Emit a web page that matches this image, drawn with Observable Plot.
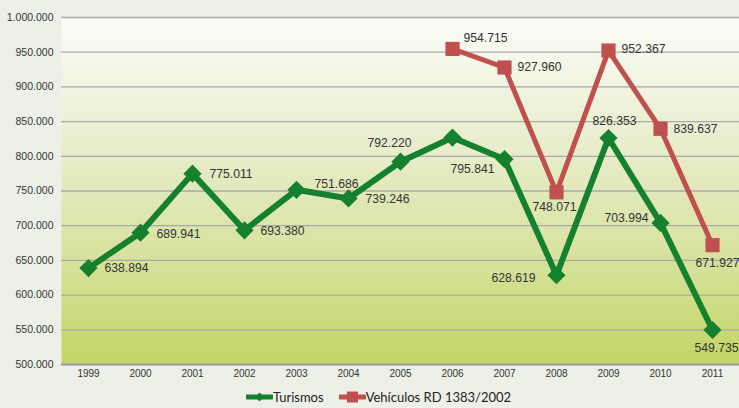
<!DOCTYPE html>
<html>
<head>
<meta charset="utf-8">
<script src="https://cdn.jsdelivr.net/npm/d3@7"></script>
<script src="https://cdn.jsdelivr.net/npm/@observablehq/plot@0.6"></script>
<style>
  html, body { margin: 0; padding: 0; background: #edf0e7; }
  #wrap { width: 739px; height: 408px; overflow: hidden; font-family: "Liberation Sans", Arial, sans-serif; }
  #legend { height: 22px; display: flex; align-items: center; justify-content: center; padding-left: 18px;
            font-family: Lato, "Open Sans", sans-serif; font-size: 13px; color: #222; letter-spacing: 0; }
  #legend .item { display: flex; align-items: center; margin-right: 15px; }
  #legend .item:last-child { margin-right: 0; }
  #legend svg { margin-right: 0; }
</style>
</head>
<body>
<div id="wrap">
  <div id="chart"></div>
  <div id="legend"></div>
</div>
<script>
// ---- data ----
const years = ["1999","2000","2001","2002","2003","2004","2005","2006","2007","2008","2009","2010","2011"];
const turismos = [638894, 689941, 775011, 693380, 751686, 739246, 792220, 827000, 795841, 628619, 826353, 703994, 549735];
const turismosLabels = ["638.894","689.941","775.011","693.380","751.686","739.246","792.220","","795.841","628.619","826.353","703.994","549.735"];
const vehiculosYears = ["2006","2007","2008","2009","2010","2011"];
const vehiculos = [954715, 927960, 748071, 952367, 839637, 671927];
const vehiculosLabels = ["954.715","927.960","748.071","952.367","839.637","671.927"];
const yTicks = [500000, 550000, 600000, 650000, 700000, 750000, 800000, 850000, 900000, 950000, 1000000];
const seriesNames = ["Turismos", "Vehículos RD 1383/2002"];

// ---- styling ----
const GREEN = "#15812f";
const RED = "#c0504d";
const fmt = d3.formatLocale({decimal: ",", thousands: ".", grouping: [3]}).format(",d");

const tData = years.map((y, i) => ({year: y, value: turismos[i], label: turismosLabels[i]}));
const vData = vehiculosYears.map((y, i) => ({year: y, value: vehiculos[i], label: vehiculosLabels[i]}));

// label placement per point: [dx, dy, anchor]
const tPlace = {
  "1999": [16, 0, "start"], "2000": [16, 1, "start"], "2001": [17, 0, "start"], "2002": [16, 1, "start"],
  "2003": [18, -6, "start"], "2004": [17, 1, "start"], "2005": [-11, -19, "middle"], "2006": [0, 0, "middle"],
  "2007": [-10, 10, "end"], "2008": [-21, 3, "end"], "2009": [6, -17, "middle"], "2010": [-12, -5, "end"],
  "2011": [4, 18, "middle"]
};
const vPlace = {
  "2006": [11, -11, "start"], "2007": [13, 0, "start"], "2008": [-2, 15, "middle"],
  "2009": [13, -1, "start"], "2010": [13, 0, "start"], "2011": [5, 18, "middle"]
};

const labelMarks = [];
for (const d of tData) {
  if (!d.label) continue;
  const [dx, dy, a] = tPlace[d.year];
  labelMarks.push(Plot.text([d], {x: "year", y: "value", text: "label", dx, dy, textAnchor: a,
    fill: "#333", fontSize: 12.2}));
}
for (const d of vData) {
  const [dx, dy, a] = vPlace[d.year];
  labelMarks.push(Plot.text([d], {x: "year", y: "value", text: "label", dx, dy, textAnchor: a,
    fill: "#333", fontSize: 12.2}));
}

const chart = Plot.plot({
  width: 739,
  height: 386,
  marginLeft: 61,
  marginRight: 0,
  marginTop: 17,
  marginBottom: 22,
  style: {background: "transparent", fontFamily: "'Liberation Sans', Arial, sans-serif", overflow: "hidden"},
  x: {type: "point", domain: years, padding: 0.5, label: null},
  y: {domain: [500000, 1000000], label: null},
  marks: [
    Plot.frame({fill: "url(#plotbg)", stroke: null}),
    Plot.gridY(yTicks, {stroke: "#a9a9a9", strokeOpacity: 1, strokeWidth: 1.3}),
    Plot.ruleY([500000], {stroke: "#9e9e9e", strokeWidth: 2}),
    Plot.axisY(yTicks, {tickSize: 0, tickPadding: 8, tickFormat: fmt, fontSize: 10.5, fill: "#333"}),
    Plot.axisX({tickSize: 0, tickPadding: 5, fontSize: 10, fill: "#333"}),
    Plot.line(vData, {x: "year", y: "value", stroke: RED, strokeWidth: 5, strokeLinejoin: "miter"}),
    Plot.dot(vData, {x: "year", y: "value", symbol: "square", r: 8, fill: RED, stroke: null}),
    Plot.line(tData, {x: "year", y: "value", stroke: GREEN, strokeWidth: 6, strokeLinejoin: "miter"}),
    Plot.dot(tData, {x: "year", y: "value", symbol: "diamond2", r: 8.2, fill: GREEN, stroke: null}),
    ...labelMarks
  ]
});

// gradient for plot area
const ns = "http://www.w3.org/2000/svg";
const defs = document.createElementNS(ns, "defs");
defs.innerHTML = `<linearGradient id="plotbg" x1="0" y1="0" x2="0" y2="1">
  <stop offset="0" stop-color="#fbfcf8"/>
  <stop offset="0.35" stop-color="#e9eecf"/>
  <stop offset="0.7" stop-color="#d6e29c"/>
  <stop offset="1" stop-color="#c2d463"/>
</linearGradient>`;
chart.insertBefore(defs, chart.firstChild);
document.getElementById("chart").appendChild(chart);

// legend
const legend = document.getElementById("legend");
const swatches = [
  {name: seriesNames[0], color: GREEN, shape: "diamond"},
  {name: seriesNames[1], color: RED, shape: "square"}
];
for (const s of swatches) {
  const item = document.createElement("div");
  item.className = "item";
  const marker = s.shape === "diamond"
    ? `<path d="M13.5,3.5 L18,8 L13.5,12.5 L9,8 Z" fill="${s.color}"/>`
    : `<rect x="8" y="2.5" width="11" height="11" fill="${s.color}"/>`;
  item.innerHTML = `<svg width="27" height="16"><line x1="1" y1="8" x2="26" y2="8" stroke="${s.color}" stroke-width="5" stroke-linecap="round"/>${marker}</svg><span>${s.name}</span>`;
  legend.appendChild(item);
}
</script>
</body>
</html>
